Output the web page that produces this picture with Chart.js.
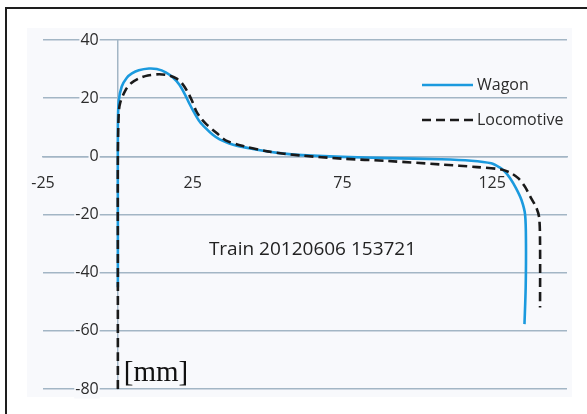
<!DOCTYPE html>
<html lang="en">
<head>
    <meta charset="UTF-8">
    <title>Train 20120606 153721</title>
    <style>
        body {
            margin: 0;
            background-color: white;
        }
        .frame {
            position: absolute;
            left: 5px;
            top: 7px;
            width: 600px;
            height: 420px;
            border-left: 2.5px solid #1e1e1e;
            border-top: 2.5px solid #1e1e1e;
        }
        canvas {
            position: absolute;
            left: 0;
            top: 0;
        }
    </style>
</head>
<body>
    <div class="frame"></div>
    <canvas id="profileChart" width="587" height="414"></canvas>
    <script src="https://cdn.jsdelivr.net/npm/chart.js"></script>
    <script>
        // values, [mm]
        const wagonX = [0, 0, 0, 0.3, 1.3, 3, 4.7, 7, 10.4, 13, 16, 18.5, 20.5, 22.3, 24, 25.5, 27.3, 29.5, 31.6, 34, 37, 40, 47, 54, 60, 75, 90, 108, 118, 124.7, 127.5, 129, 131, 133, 134.8, 136, 136.3, 136.2, 135.8];
        const wagonY = [-45, -20, 10, 19, 24, 27, 28.5, 29.6, 30.2, 30, 28.9, 27, 24.7, 21.5, 17.9, 15, 12, 9.5, 7.5, 5.8, 4.5, 3.6, 2.2, 1.1, 0.5, -0.2, -0.6, -1, -1.5, -2.4, -3.8, -5, -7.5, -11, -15, -20, -30, -45, -57.7];

        const locoX = [0, 0, 0, 0.3, 0.8, 2.7, 4.5, 7, 10, 13.8, 17, 19.5, 21.5, 23.2, 24.8, 26.2, 27.8, 29.6, 33, 36, 42, 50, 61, 75, 90, 108, 120, 128, 131, 133.7, 136, 138, 139.7, 140.7, 141, 141];
        const locoY = [-80, -40, 0, 15, 18.5, 23, 25.2, 26.8, 27.8, 28.2, 27.8, 26.8, 25, 22.3, 19, 15.5, 13, 11, 8, 5.5, 3.5, 1.7, 0.3, -0.8, -1.6, -2.8, -3.7, -4.5, -5.6, -7.5, -10.5, -14.4, -17.5, -21, -30, -52];

        const xTicks = [-25, 25, 75, 125];
        const seriesLabels = ['Wagon', 'Locomotive'];
        const chartNote = 'Train 20120606 153721';
        const unitLabel = '[mm]';

        const gridColor = '#a3b6c5';
        const textColor = '#2c2c2c';
        const panelColor = '#f8f9fc';

        function toPoints(xs, ys) {
            return xs.map((x, i) => ({ x: x, y: ys[i] }));
        }

        // light panel behind the plot
        const panelPlugin = {
            id: 'panel',
            beforeDraw(chart) {
                const a = chart.chartArea;
                const c = chart.ctx;
                c.save();
                c.fillStyle = panelColor;
                c.fillRect(a.left - 16, a.top - 12, a.width + 21, a.height + 20);
                c.restore();
            }
        };

        // legend inside the plot + text notes
        const notesPlugin = {
            id: 'notes',
            afterDraw(chart) {
                const a = chart.chartArea;
                const c = chart.ctx;
                const xs = chart.scales.x;
                const ys = chart.scales.y;
                c.save();
                chart.data.datasets.forEach((ds, i) => {
                    const y = a.top + 45 + i * 35;
                    c.strokeStyle = ds.borderColor;
                    c.lineWidth = ds.borderWidth;
                    c.setLineDash(ds.borderDash || []);
                    c.beginPath();
                    c.moveTo(a.right - 145, y);
                    c.lineTo(a.right - 94, y);
                    c.stroke();
                    c.setLineDash([]);
                    c.fillStyle = textColor;
                    c.font = '16px "Open Sans"';
                    c.textBaseline = 'middle';
                    c.textAlign = 'left';
                    c.fillText(ds.label, a.right - 90, y);
                });

                c.fillStyle = '#222';
                c.font = '19px "Open Sans"';
                c.textAlign = 'center';
                c.textBaseline = 'middle';
                c.fillText(chartNote, xs.getPixelForValue(65), ys.getPixelForValue(-32));

                c.fillStyle = '#111';
                c.font = '29px "Liberation Serif"';
                c.textAlign = 'left';
                c.fillText(unitLabel, xs.getPixelForValue(2), ys.getPixelForValue(-74.5));
                c.restore();
            }
        };

        const ctx = document.getElementById('profileChart').getContext('2d');
        new Chart(ctx, {
            type: 'scatter',
            data: {
                datasets: [
                    {
                        label: seriesLabels[0],
                        data: toPoints(wagonX, wagonY),
                        showLine: true,
                        borderColor: '#1b9ade',
                        borderWidth: 2.6,
                        pointRadius: 0,
                        tension: 0.3,
                        order: 2
                    },
                    {
                        label: seriesLabels[1],
                        data: toPoints(locoX, locoY),
                        showLine: true,
                        borderColor: '#1a1a1a',
                        borderDash: [9, 5],
                        borderWidth: 2.6,
                        pointRadius: 0,
                        tension: 0.3,
                        order: 1
                    }
                ]
            },
            options: {
                responsive: false,
                animation: false,
                layout: {
                    padding: { left: 43, right: 20, top: 40, bottom: 25 }
                },
                plugins: {
                    legend: { display: false },
                    tooltip: { enabled: false }
                },
                scales: {
                    x: {
                        type: 'linear',
                        min: -25,
                        max: 150,
                        position: { y: 0 },
                        afterBuildTicks: function(scale) {
                            scale.ticks = xTicks.map(v => ({ value: v }));
                        },
                        grid: { display: false, drawTicks: false },
                        border: { color: gridColor, width: 1.5 },
                        ticks: {
                            padding: 18,
                            color: textColor,
                            font: { family: 'Open Sans', size: 16 },
                            maxRotation: 0
                        }
                    },
                    // value axis crossing at x = 0, gridlines only
                    y: {
                        min: -80,
                        max: 40,
                        position: { x: 0 },
                        grid: { color: gridColor, lineWidth: 1.5, drawTicks: false },
                        border: { color: gridColor, width: 1.5 },
                        ticks: { stepSize: 20, display: false }
                    },
                    // same range, only carries the labels a bit left of the axis
                    yLabels: {
                        axis: 'y',
                        min: -80,
                        max: 40,
                        position: { x: -6.4 },
                        grid: { display: false, drawTicks: false },
                        border: { display: false },
                        ticks: {
                            stepSize: 20,
                            padding: 0,
                            color: textColor,
                            font: { family: 'Open Sans', size: 16 },
                            showLabelBackdrop: true,
                            backdropColor: panelColor,
                            backdropPadding: { top: 0, bottom: 0, left: 1, right: 1 }
                        }
                    }
                }
            },
            plugins: [panelPlugin, notesPlugin]
        });
    </script>
</body>
</html>
